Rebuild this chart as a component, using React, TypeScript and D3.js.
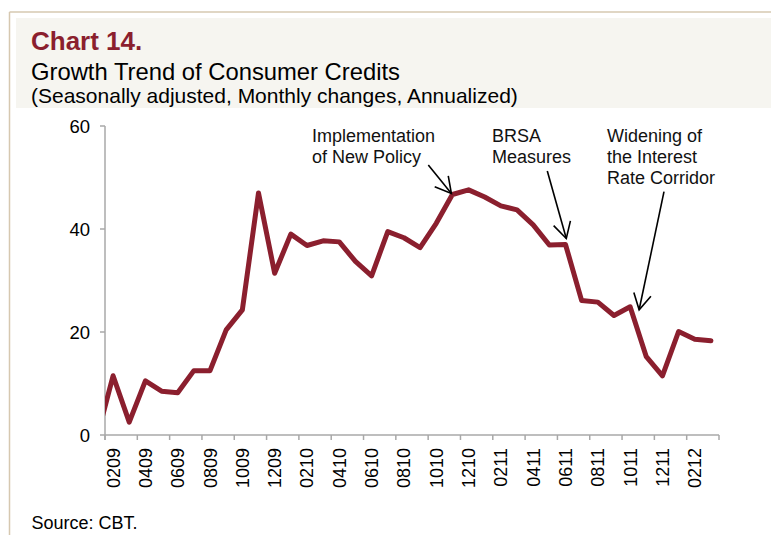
import React from "react";
import * as d3 from "d3";

// Monthly categories, 02-2009 .. 03-2012 (MMYY)
const months: string[] = [
  "0209","0309","0409","0509","0609","0709","0809","0909","1009","1109","1209",
  "0110","0210","0310","0410","0510","0610","0710","0810","0910","1010","1110","1210",
  "0111","0211","0311","0411","0511","0611","0711","0811","0911","1011","1111","1211",
  "0112","0212","0312",
];
// Consumer credit growth (%, annualized monthly change, s.a.)
const growth: number[] = [
  11.5, 2.5, 10.5, 8.5, 8.2, 12.5, 12.5, 20.4, 24.3, 47.0, 31.4,
  39.0, 36.8, 37.7, 37.5, 33.7, 30.9, 39.5, 38.3, 36.4, 41.1, 46.7, 47.6,
  46.2, 44.5, 43.7, 40.8, 36.9, 37.0, 26.1, 25.8, 23.2, 24.9, 15.2, 11.5,
  20.1, 18.6, 18.3,
];
// value for 01-2009, outside the visible axis (line enters from the left edge)
const priorMonthValue = -0.5;

const yTicks: number[] = [0, 20, 40, 60];
const labelEvery = 2;

const annotationLabels: string[][] = [
  ["Implementation", "of New Policy"],
  ["BRSA", "Measures"],
  ["Widening of", "the Interest", "Rate Corridor"],
];
const annotationMonths: string[] = ["1110", "0611", "1011"];

const FONT = "'Liberation Sans', Arial, Helvetica, sans-serif";
const RED = "#8b1f2e";

export default function App() {
  const W = 771, H = 535;
  const left = 105, right = 719, top = 126, bottom = 435;
  const n = months.length;
  const xi = d3.scaleLinear().domain([0, n]).range([left, right]);
  const cx = (i: number) => xi(i + 0.5);
  const y = d3.scaleLinear().domain([0, 60]).range([bottom, top]);

  const pts: [number, number][] = [[cx(-1), y(priorMonthValue)]].concat(
    growth.map((v, i) => [cx(i), y(v)] as [number, number])
  );
  const line = d3.line<[number, number]>().x((d) => d[0]).y((d) => d[1]);

  // annotation layout
  const annLayout = [
    { tx: 312, ty: 142.3, tail: [428.3, 165], dx: -1, dy: -1 },
    { tx: 492, ty: 142.3, tail: [547.3, 171], dx: 0.8, dy: -6 },
    { tx: 607, ty: 141.7, tail: [664, 191.7], dx: 9, dy: 3 },
  ];
  const lineH = 21;

  const xTickIdx = d3.range(0, n + 1, 2);
  const axisColor = "#a8a8a8";

  return (
    <svg
      width={W}
      height={H}
      style={{ position: "absolute", left: 0, top: 0, background: "#fff" }}
      fontFamily={FONT}
    >
      <defs>
        <clipPath id="plotClip">
          <rect x={left} y={0} width={right - left + 10} height={H} />
        </clipPath>
      </defs>
      {/* frame */}
      <line x1={9.5} y1={12} x2={W} y2={12} stroke="#d6c8b0" strokeWidth={1.5} />
      <line x1={9.5} y1={12} x2={9.5} y2={H} stroke="#d6c8b0" strokeWidth={1.5} />
      <rect x={16} y={18} width={W - 16} height={90} fill="#f6f5f0" />

      {/* titles */}
      <text x={31} y={50} fontSize={26} fontWeight="bold" fill={RED}>Chart 14.</text>
      <text x={31} y={80} fontSize={23.8} fill="#000">Growth Trend of Consumer Credits</text>
      <text x={31} y={102.5} fontSize={21} fill="#000">(Seasonally adjusted, Monthly changes, Annualized)</text>

      {/* y axis */}
      <line x1={left} y1={top} x2={left} y2={bottom + 5} stroke={axisColor} strokeWidth={1.5} />
      {yTicks.map((t) => (
        <g key={t}>
          <line x1={left - 5} x2={left} y1={y(t)} y2={y(t)} stroke={axisColor} strokeWidth={1.5} />
          <text x={90} y={y(t)} dy="0.36em" textAnchor="end" fontSize={18.5} fill="#000">
            {t}
          </text>
        </g>
      ))}

      {/* x axis */}
      <line x1={left} y1={bottom} x2={right} y2={bottom} stroke={axisColor} strokeWidth={1.5} />
      {xTickIdx.map((k) => (
        <line key={k} x1={xi(k)} x2={xi(k)} y1={bottom} y2={bottom + 5} stroke={axisColor} strokeWidth={1.5} />
      ))}
      {months.map((m, i) =>
        i % labelEvery === 0 ? (
          <text
            key={m}
            transform={`translate(${cx(i)},448) rotate(-90)`}
            textAnchor="end"
            dy="0.36em"
            fontSize={18}
            fill="#000"
          >
            {m}
          </text>
        ) : null
      )}

      {/* series */}
      <g clipPath="url(#plotClip)">
        <path
          d={line(pts) || ""}
          fill="none"
          stroke={RED}
          strokeWidth={5}
          strokeLinejoin="round"
          strokeLinecap="round"
        />
      </g>

      {/* annotations */}
      {annotationLabels.map((lines, a) => {
        const L = annLayout[a];
        const idx = months.indexOf(annotationMonths[a]);
        const tip: [number, number] = [cx(idx) + L.dx, y(growth[idx]) + L.dy];
        const ang = Math.atan2(L.tail[1] - tip[1], L.tail[0] - tip[0]);
        const len = 18;
        const spread = (29 * Math.PI) / 180;
        const a1: [number, number] = [tip[0] + len * Math.cos(ang - spread), tip[1] + len * Math.sin(ang - spread)];
        const a2: [number, number] = [tip[0] + len * Math.cos(ang + spread), tip[1] + len * Math.sin(ang + spread)];
        return (
          <g key={a}>
            {lines.map((s, j) => (
              <text key={j} x={L.tx} y={L.ty + j * lineH} fontSize={18} fill="#111">
                {s}
              </text>
            ))}
            <line x1={L.tail[0]} y1={L.tail[1]} x2={tip[0]} y2={tip[1]} stroke="#000" strokeWidth={1.6} />
            <polyline
              points={`${a1[0]},${a1[1]} ${tip[0]},${tip[1]} ${a2[0]},${a2[1]}`}
              fill="none"
              stroke="#000"
              strokeWidth={1.6}
            />
          </g>
        );
      })}

      {/* source */}
      <text x={31.5} y={529} fontSize={18} fill="#000">Source: CBT.</text>
    </svg>
  );
}
